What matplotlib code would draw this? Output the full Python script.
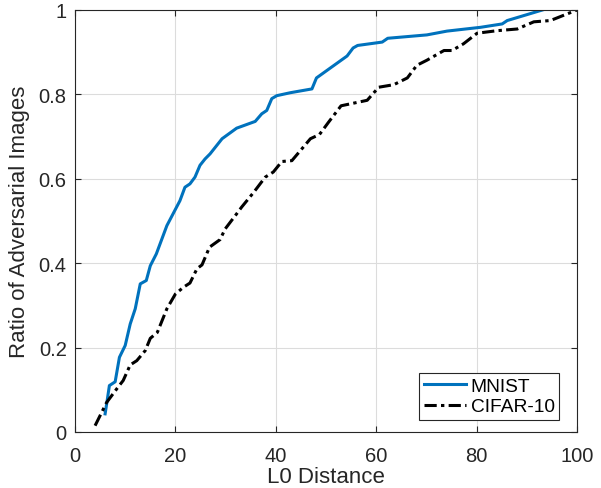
import matplotlib
matplotlib.use("Agg")
import matplotlib.pyplot as plt

plt.rcParams['font.family'] = ['Liberation Sans', 'DejaVu Sans']

mnist_x = [6.0, 6.3, 6.85, 8.0, 8.85, 10.0, 11.0, 12.0, 13.0, 14.2, 15.0, 16.2, 18.3, 20.9, 21.9,
           22.9, 23.9, 24.9, 25.9, 26.9, 29.3, 32.2, 35.9, 37.2, 38.2, 39.2, 40.2, 42.9, 47.2,
           48.1, 54.2, 55.4, 56.3, 61.2, 62.3, 70.1, 74.1, 80.8, 85.1, 86.1, 93.1]
mnist_y = [0.043, 0.066, 0.11, 0.119, 0.177, 0.205, 0.256, 0.292, 0.351, 0.359, 0.394, 0.422, 0.489,
           0.548, 0.580, 0.588, 0.604, 0.632, 0.647, 0.659, 0.695, 0.720, 0.736, 0.754, 0.762,
           0.790, 0.797, 0.804, 0.813, 0.839, 0.891, 0.910, 0.916, 0.924, 0.933, 0.941, 0.950,
           0.959, 0.967, 0.975, 1.0]

cifar_x = [4.0, 6.3, 8.3, 9.6, 11.0, 12.3, 14.0, 15.0, 16.4, 18.3, 20.0, 21.6, 22.9, 24.3, 25.3,
           26.8, 28.9, 29.9, 32.2, 33.2, 35.6, 37.9, 39.5, 41.2, 43.2, 46.9, 48.7, 50.5, 53.0,
           58.2, 60.5, 63.5, 66.2, 68.1, 70.1, 73.5, 75.1, 77.4, 80.1, 84.1, 88.1, 91.4, 94.7, 100.0]
cifar_y = [0.015, 0.070, 0.102, 0.122, 0.159, 0.169, 0.193, 0.222, 0.236, 0.292, 0.327, 0.343,
           0.353, 0.387, 0.396, 0.438, 0.456, 0.481, 0.517, 0.533, 0.568, 0.604, 0.616, 0.641,
           0.643, 0.695, 0.705, 0.734, 0.773, 0.786, 0.817, 0.823, 0.839, 0.869, 0.881, 0.904,
           0.904, 0.920, 0.945, 0.951, 0.955, 0.972, 0.975, 1.0]

xticks = [0, 20, 40, 60, 80, 100]
yticks = [0, 0.2, 0.4, 0.6, 0.8, 1]
ytick_labels = ['0', '0.2', '0.4', '0.6', '0.8', '1']

fig = plt.figure(figsize=(6.01, 4.89), dpi=100)
ax = fig.add_axes([75/601, 56/489, 502/601, 422/489])

ax.plot(mnist_x, mnist_y, color='#0072BD', linewidth=2.2, label='MNIST')
ax.plot(cifar_x, cifar_y, color='black', linewidth=2.2, linestyle=(0, (4.0, 1.4, 1.1, 1.4)),
        label='CIFAR-10')

ax.set_xlim(0, 100)
ax.set_ylim(0, 1)
ax.set_xticks(xticks)
ax.set_yticks(yticks)
ax.set_yticklabels(ytick_labels)
ax.grid(True, color='#dcdcdc', linewidth=0.8)
ax.set_axisbelow(True)
ax.tick_params(direction='in', length=4, width=0.8, colors='#262626', labelsize=14.5,
               top=True, right=True)
ax.tick_params(axis='x', pad=10)
ax.tick_params(axis='y', pad=6)
for s in ax.spines.values():
    s.set_color('#262626')
    s.set_linewidth(0.8)
ax.set_xlabel('L0 Distance', fontsize=16, color='#262626', labelpad=0.5)
ax.set_ylabel('Ratio of Adversarial Images', fontsize=16, color='#262626', labelpad=6)

leg = ax.legend(loc='lower right', bbox_to_anchor=(0.9648, 0.0284), borderaxespad=0,
                fontsize=13.8, frameon=True, fancybox=False,
                edgecolor='#262626', framealpha=1, handlelength=2.2, handletextpad=0.25,
                borderpad=0.25, labelspacing=0.15)
leg.get_frame().set_linewidth(0.8)

fig.savefig('out.png', dpi=100)
